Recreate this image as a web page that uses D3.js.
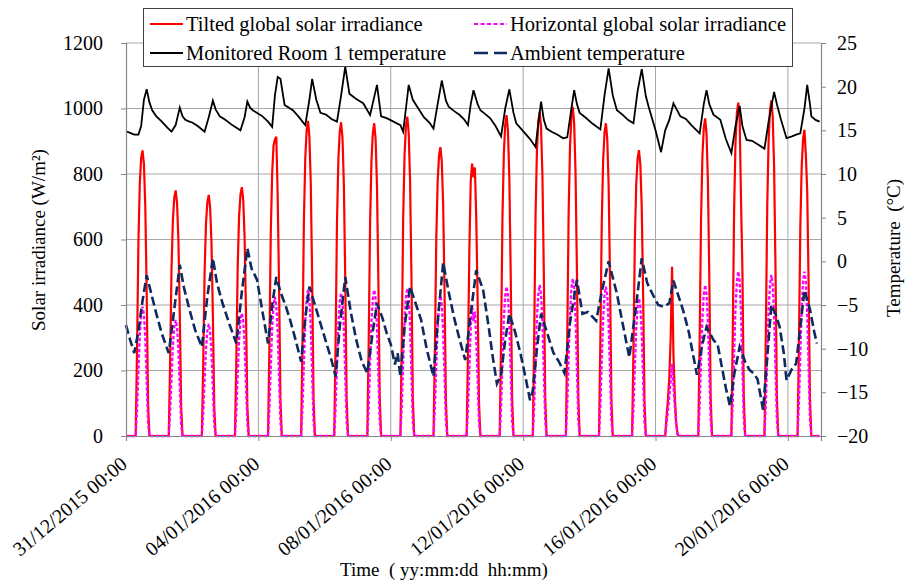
<!DOCTYPE html>
<html>
<head>
<meta charset="utf-8">
<script src="https://cdn.jsdelivr.net/npm/d3@7"></script>
<style>
  body { margin: 0; background: #fff; }
  svg text { font-family: "Liberation Serif", "Times New Roman", serif; fill: #000; }
</style>
</head>
<body>
<div id="chart"></div>
<script>
// hours of daylight samples (solar series), values in W/m2
var daylightHours = [8, 9, 10, 11, 12, 13, 14, 15, 16];
var darkHours = [0, 7, 17, 23];

var tiltedDaily = [
  [260, 590, 770, 850, 872, 830, 700, 440, 100],
  [225, 510, 660, 728, 750, 712, 600, 375, 90],
  [220, 500, 648, 714, 736, 699, 589, 368, 88],
  [228, 517, 669, 737, 760, 722, 608, 380, 91],
  [274, 622, 804, 887, 905, 914, 731, 457, 110],
  [289, 654, 847, 933, 962, 914, 770, 481, 115],
  [287, 651, 843, 929, 958, 910, 766, 479, 115],
  [287, 649, 840, 926, 955, 907, 764, 478, 115],
  [293, 663, 858, 946, 975, 926, 780, 488, 117],
  [265, 600, 776, 856, 882, 838, 706, 441, 106],
  [250, 566, 780, 832, 790, 820, 666, 416, 100],
  [294, 666, 862, 951, 980, 931, 784, 490, 118],
  [297, 673, 871, 960, 990, 941, 792, 495, 119],
  [302, 683, 884, 975, 1005, 955, 804, 503, 121],
  [287, 649, 840, 926, 955, 907, 764, 478, 115],
  [262, 594, 768, 847, 873, 829, 698, 437, 105],
  [60, 110, 180, 300, 517, 250, 120, 40, 5],
  [291, 660, 854, 941, 970, 922, 776, 485, 116],
  [305, 692, 896, 987, 1018, 967, 720, 509, 122],
  [308, 697, 902, 994, 1025, 974, 820, 513, 123],
  [281, 636, 823, 907, 935, 860, 748, 468, 112]
];

var horizontalDaily = [
  [79, 198, 308, 371, 395, 371, 296, 166, 40],
  [71, 177, 276, 333, 354, 333, 266, 149, 35],
  [68, 171, 267, 321, 342, 321, 257, 144, 34],
  [75, 188, 293, 353, 375, 353, 281, 158, 38],
  [85, 213, 332, 400, 425, 400, 319, 179, 43],
  [89, 223, 348, 419, 446, 419, 335, 187, 45],
  [87, 218, 340, 410, 436, 410, 327, 183, 44],
  [89, 223, 348, 419, 446, 419, 335, 187, 45],
  [90, 226, 352, 424, 451, 424, 338, 189, 45],
  [86, 214, 334, 402, 428, 402, 321, 180, 43],
  [80, 200, 330, 400, 350, 380, 300, 168, 40],
  [91, 228, 356, 429, 456, 429, 342, 192, 46],
  [92, 231, 360, 433, 461, 433, 346, 194, 46],
  [96, 241, 375, 452, 481, 452, 361, 202, 48],
  [91, 228, 356, 429, 456, 429, 342, 192, 46],
  [84, 210, 328, 395, 420, 395, 315, 176, 42],
  [40, 75, 120, 170, 220, 150, 90, 35, 5],
  [92, 231, 360, 433, 461, 433, 346, 194, 46],
  [100, 251, 392, 472, 502, 472, 377, 211, 50],
  [98, 246, 384, 462, 492, 462, 369, 207, 49],
  [100, 251, 392, 472, 502, 472, 377, 211, 50]
];

// [hours since 31/12/2015 00:00, degC]
var roomTemp = [
  [0,14.9],[3,14.7],[6,14.5],[9,14.5],[11,15.5],[13,18.5],[15,19.7],[17,18.2],[19,17.3],[22,16.6],
  [26,16.0],[30,15.3],[33,14.85],[36,15.6],[39,17.6],[41,16.6],[43,16.2],[46,16.0],[48,15.9],[52,15.5],
  [57,14.85],[60,16.5],[63,18.4],[65,17.4],[68,16.6],[72,16.2],[77,15.6],[83,15.0],[86,16.5],[88,18.3],
  [90,17.6],[92,17.3],[96,16.9],[99,16.6],[103,16.0],[106,15.4],[108,19.0],[110,21.1],[112,20.9],[115,17.9],
  [118,17.6],[121,17.3],[125,16.6],[130,15.6],[133,18.5],[135,20.9],[138,18.5],[141,17.0],[145,16.8],[149,16.3],
  [153,16.0],[156,19.0],[159,22.3],[162,19.2],[166,18.7],[169,18.4],[172,18.1],[175,17.3],[177,16.75],[180,18.8],
  [182,20.2],[185,16.6],[189,16.4],[194,16.0],[199,15.6],[201,14.85],[203,17.5],[205,20.2],[208,18.5],[212,17.5],
  [216,16.5],[220,15.9],[223,15.2],[226,18.0],[229,20.7],[232,18.4],[234,17.7],[238,17.2],[242,16.75],[245,16.3],
  [248,15.6],[250,18.0],[252,19.6],[255,18.0],[257,17.3],[261,16.8],[264,16.4],[268,15.5],[272,14.3],[275,17.5],
  [278,19.7],[281,17.0],[283,15.8],[288,14.9],[293,14.0],[297,13.1],[299,15.8],[301,18.3],[303,16.2],[305,15.2],
  [309,14.8],[313,14.5],[317,14.1],[320,14.2],[323,17.5],[325,19.6],[327,18.0],[329,17.0],[333,16.5],[338,15.8],
  [344,15.1],[347,19.0],[350,22.1],[353,19.0],[356,17.3],[360,16.8],[364,16.2],[368,15.8],[371,19.5],[374,22.0],
  [377,18.9],[379,17.7],[384,15.0],[388,12.5],[391,15.0],[394,16.2],[397,18.1],[400,17.2],[402,16.6],[406,16.3],
  [410,15.6],[416,14.65],[419,18.0],[421,19.6],[423,18.0],[426,16.8],[431,16.2],[435,14.0],[439,12.4],[442,15.5],
  [445,17.8],[447,15.5],[450,13.9],[454,13.8],[458,13.4],[463,12.9],[466,16.0],[470,19.4],[472,18.0],[475,16.2],
  [479,14.1],[483,14.3],[486,14.5],[489,14.65],[492,17.5],[494,20.2],[496,18.0],[497,16.6],[500,16.2],[503,16.0]
];

var ambientTemp = [
  [0,-7.3],[3,-9.0],[6,-10.5],[9,-8.0],[12,-4.5],[15,-1.6],[18,-3.5],[22,-6.0],[26,-8.3],[31,-10.5],
  [35,-5.5],[39,-0.4],[42,-3.0],[46,-5.5],[50,-7.8],[55,-9.8],[59,-4.0],[63,0.35],[66,-2.5],[70,-4.8],
  [75,-7.2],[80,-9.4],[84,-3.5],[88,1.5],[91,-0.8],[95,-2.1],[99,-5.8],[103,-9.4],[106,-5.0],[109,-1.8],
  [112,-3.5],[116,-5.2],[119,-6.7],[123,-9.0],[127,-11.5],[130,-6.5],[133,-2.9],[137,-5.0],[141,-7.1],[145,-9.2],
  [149,-11.3],[152,-13.2],[155,-7.5],[159,-1.8],[163,-5.8],[167,-9.0],[171,-11.5],[175,-12.8],[179,-8.0],[182,-4.8],
  [186,-6.5],[189,-8.2],[192,-9.5],[195,-11.8],[197,-10.5],[199,-13.2],[202,-7.5],[206,-2.9],[210,-4.8],[214,-6.7],
  [218,-10.0],[223,-13.2],[226,-7.0],[230,-0.15],[234,-3.5],[238,-6.5],[242,-9.0],[246,-11.3],[250,-6.0],[254,-1.0],
  [259,-3.3],[263,-7.5],[266,-11.0],[269,-14.0],[272,-13.0],[275,-9.0],[278,-6.0],[282,-8.0],[286,-10.5],[290,-13.5],
  [293,-15.9],[295,-14.8],[298,-10.0],[301,-6.0],[305,-8.0],[310,-10.5],[314,-11.5],[318,-12.8],[322,-7.0],[327,-2.1],
  [331,-6.0],[335,-5.8],[338,-6.3],[341,-6.8],[345,-3.5],[350,0.0],[356,-3.7],[360,-7.0],[365,-11.0],[370,-5.0],
  [374,0.35],[378,-2.5],[382,-3.8],[386,-5.0],[390,-5.2],[394,-4.8],[397,-2.2],[404,-5.6],[408,-8.0],[411,-10.5],
  [414,-13.0],[418,-9.5],[421,-7.5],[426,-9.0],[429,-9.5],[432,-12.0],[435,-14.5],[438,-16.6],[441,-13.0],[445,-9.8],
  [449,-11.5],[452,-12.4],[455,-12.8],[458,-13.5],[462,-17.0],[465,-11.0],[468,-5.0],[471,-6.0],[474,-7.5],[477,-10.5],
  [479,-13.6],[483,-12.3],[486,-11.7],[489,-7.5],[492,-3.3],[496,-5.5],[499,-8.0],[501,-9.4]
];

var irradianceTicks = [0, 200, 400, 600, 800, 1000, 1200];
var temperatureTicks = [-20, -15, -10, -5, 0, 5, 10, 15, 20, 25];
var legendNames = ["Tilted global solar irradiance", "Horizontal global solar irradiance",
                   "Monitored Room 1 temperature", "Ambient temperature"];

var width = 907, height = 588;
var margin = {left: 126, right: 86, top: 43, bottom: 152};
var start = new Date(2015, 11, 31);
var end = new Date(2016, 0, 21);
function atHour(h) { return new Date(start.getTime() + h * 3600000); }

var svg = d3.select("#chart").append("svg")
    .attr("width", width)
    .attr("height", height);

var x = d3.scaleTime().domain([start, end]).range([margin.left, width - margin.right]);
var yL = d3.scaleLinear().domain([0, 1200]).range([height - margin.bottom, margin.top]);
var yR = d3.scaleLinear().domain([-20, 25]).range([height - margin.bottom, margin.top]);

var dateTicks = d3.timeDay.range(start, d3.timeDay.offset(end, 1), 4);

// gridlines
svg.append("g").selectAll("line")
    .data(irradianceTicks.slice(1))
    .enter().append("line")
    .attr("x1", x.range()[0]).attr("x2", x.range()[1])
    .attr("y1", function(d) { return yL(d); }).attr("y2", function(d) { return yL(d); })
    .attr("stroke", "#a6a6a6").attr("stroke-width", 1);
svg.append("g").selectAll("line")
    .data(dateTicks.slice(1))
    .enter().append("line")
    .attr("x1", function(d) { return x(d); }).attr("x2", function(d) { return x(d); })
    .attr("y1", yL.range()[0]).attr("y2", yL.range()[1])
    .attr("stroke", "#a6a6a6").attr("stroke-width", 1);

// series
function solarSeries(daily) {
  var pts = [];
  daily.forEach(function(vals, d) {
    var day = [];
    darkHours.forEach(function(h) { day.push([24 * d + h, 0]); });
    daylightHours.forEach(function(h, i) { day.push([24 * d + h, vals[i]]); });
    day.sort(function(a, b) { return a[0] - b[0]; });
    pts = pts.concat(day);
  });
  return pts;
}
var tilted = solarSeries(tiltedDaily);
var horizontal = solarSeries(horizontalDaily);

var lineL = d3.line().x(function(d) { return x(atHour(d[0])); }).y(function(d) { return yL(d[1]); });
var lineR = d3.line().x(function(d) { return x(atHour(d[0])); }).y(function(d) { return yR(d[1]); });

svg.append("path").datum(tilted).attr("d", lineL)
    .attr("fill", "none").attr("stroke", "#ff0000").attr("stroke-width", 2.2);
svg.append("path").datum(horizontal).attr("d", lineL)
    .attr("fill", "none").attr("stroke", "#ff00ff").attr("stroke-width", 2.3)
    .attr("stroke-dasharray", "3.5,2");
svg.append("path").datum(roomTemp).attr("d", lineR)
    .attr("fill", "none").attr("stroke", "#000").attr("stroke-width", 1.8);
svg.append("path").datum(ambientTemp).attr("d", lineR)
    .attr("fill", "none").attr("stroke", "#0f2a5e").attr("stroke-width", 2.6)
    .attr("stroke-dasharray", "9,4");

// axes
var axisL = svg.append("g")
    .attr("transform", "translate(" + margin.left + ",0)")
    .call(d3.axisLeft(yL).tickValues(irradianceTicks).tickFormat(d3.format("d"))
      .tickSize(5).tickPadding(18));
var axisR = svg.append("g")
    .attr("transform", "translate(" + (width - margin.right) + ",0)")
    .call(d3.axisRight(yR).tickValues(temperatureTicks).tickFormat(d3.format("d"))
      .tickSize(5).tickPadding(11));
var axisB = svg.append("g")
    .attr("transform", "translate(0," + (height - margin.bottom) + ")")
    .call(d3.axisBottom(x).tickValues(dateTicks).tickSize(5).tickFormat(""));

[axisL, axisR, axisB].forEach(function(a) {
  a.selectAll("path").attr("stroke", "#868686").attr("stroke-width", 1.2);
  a.selectAll("line").attr("stroke", "#868686");
  a.selectAll("text").style("font-size", "20px").style("font-family", "Liberation Serif");
});

var fmt = d3.timeFormat("%d/%m/%Y %H:%M");
svg.append("g").selectAll("text")
    .data(dateTicks)
    .enter().append("text")
    .attr("transform", function(d) { return "translate(" + (x(d) + 2.5) + "," + 466 + ") rotate(-40)"; })
    .attr("text-anchor", "end")
    .style("font-size", "20px")
    .text(function(d) { return fmt(d); });

// axis titles
svg.append("text")
    .attr("transform", "translate(45,240) rotate(-90)")
    .attr("text-anchor", "middle")
    .style("font-size", "19px")
    .text("Solar irradiance (W/m²)");
svg.append("text")
    .attr("transform", "translate(900,248) rotate(-90)")
    .attr("text-anchor", "middle")
    .style("font-size", "19px")
    .style("white-space", "pre")
    .text("Temperature  (°C)");
svg.append("text")
    .attr("x", 444).attr("y", 576)
    .attr("text-anchor", "middle")
    .style("font-size", "19px")
    .style("white-space", "pre")
    .text("Time  ( yy:mm:dd  hh:mm)");

// legend
var legend = svg.append("g");
legend.append("rect")
    .attr("x", 143.5).attr("y", 8.5).attr("width", 649).attr("height", 58)
    .attr("fill", "#fff").attr("stroke", "#404040").attr("stroke-width", 1);
var legendItems = [
  {name: legendNames[0], color: "#ff0000", dash: null, w: 2, x: 150, y: 24},
  {name: legendNames[1], color: "#ff00ff", dash: "4,2.5", w: 2, x: 474, y: 24},
  {name: legendNames[2], color: "#000", dash: null, w: 1.8, x: 150, y: 53},
  {name: legendNames[3], color: "#0f2a5e", dash: "14,6", w: 2.5, x: 474, y: 53}
];
legendItems.forEach(function(it) {
  legend.append("line")
      .attr("x1", it.x).attr("x2", it.x + 33).attr("y1", it.y).attr("y2", it.y)
      .attr("stroke", it.color).attr("stroke-width", it.w)
      .attr("stroke-dasharray", it.dash);
  legend.append("text")
      .attr("x", it.x + 36).attr("y", it.y + 6.5)
      .style("font-size", "20.5px")
      .text(it.name);
});
</script>
</body>
</html>
